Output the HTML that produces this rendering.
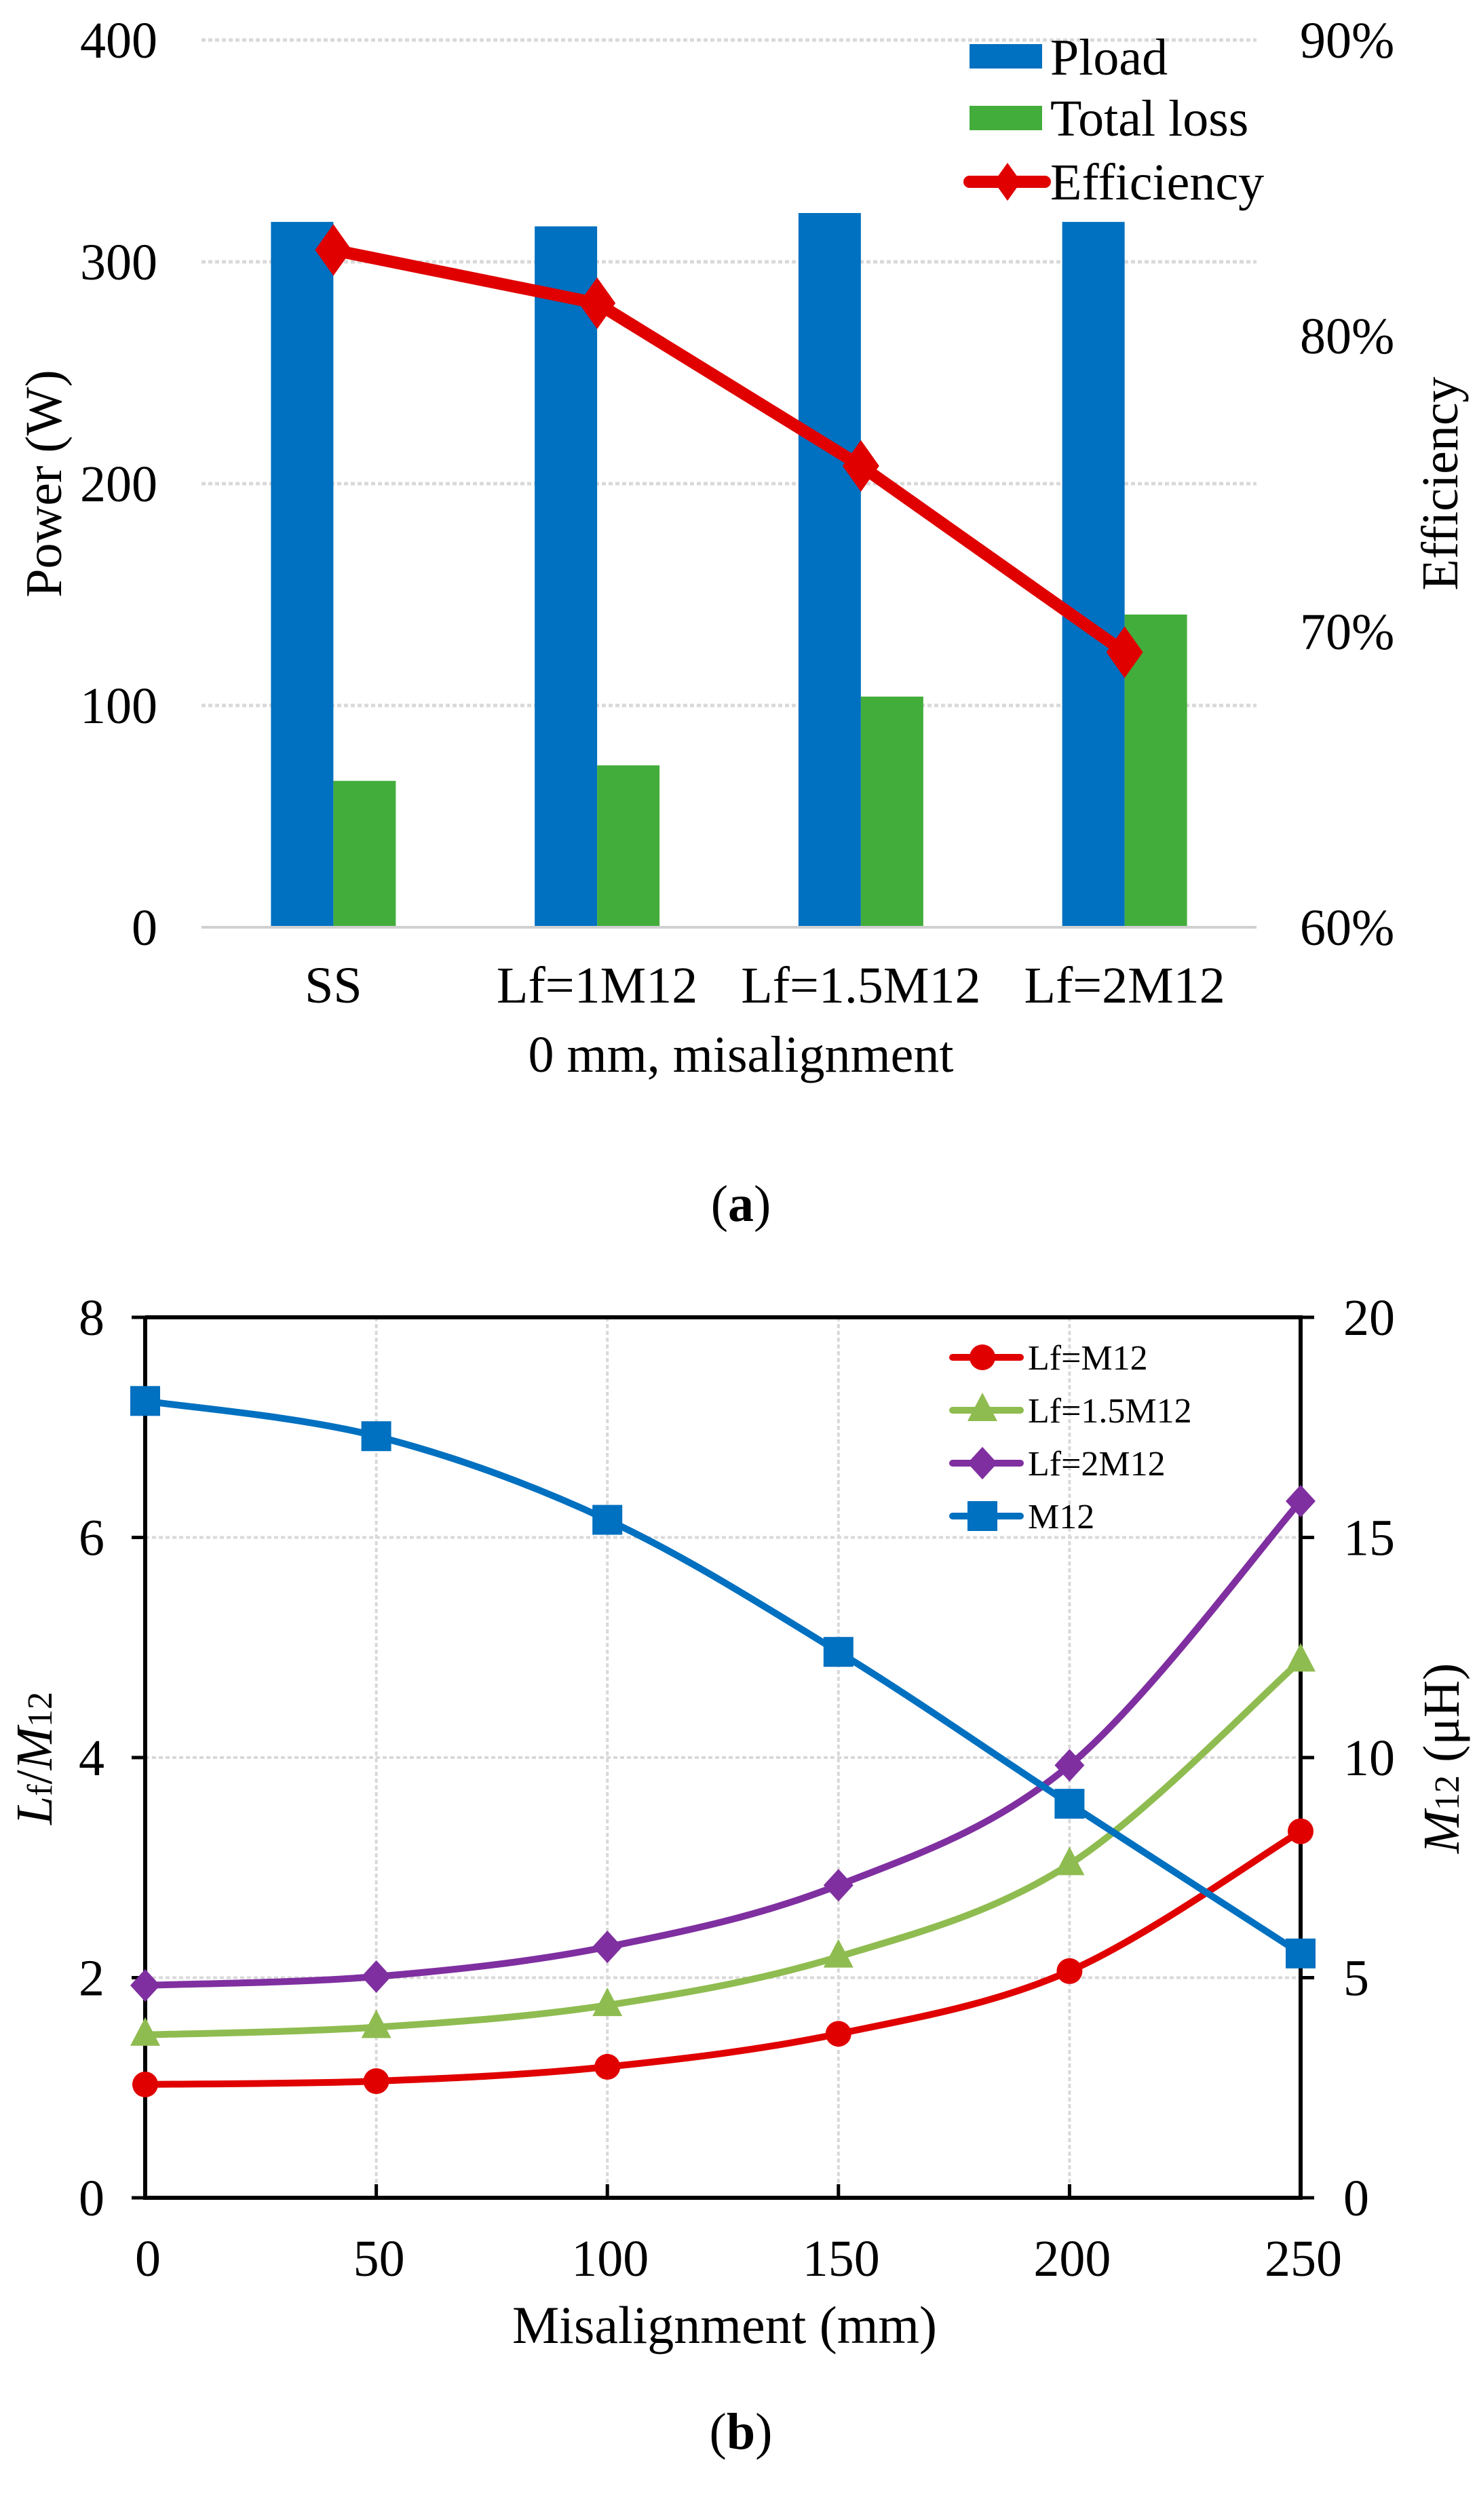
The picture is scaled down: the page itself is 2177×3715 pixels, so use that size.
<!DOCTYPE html>
<html><head><meta charset="utf-8"><style>
html,body{margin:0;padding:0;background:#fff}
svg{display:block}
text{font-family:"Liberation Serif",serif;fill:#000}
</style></head><body>
<svg id="s" width="2177" height="3715" viewBox="0 0 2177 3715" xmlns="http://www.w3.org/2000/svg">
<g id="ga"></g>
<g id="gb"></g>
<text x="1092" y="1800" font-size="76" text-anchor="middle">(<tspan font-weight="bold">a</tspan>)</text>
<text x="1092" y="3610" font-size="76" text-anchor="middle">(<tspan font-weight="bold">b</tspan>)</text>
</svg>
<script>
// ---- Chart A data ----
const catsA = ["SS","Lf=1M12","Lf=1.5M12","Lf=2M12"];
const ploadA = [318, 316, 322, 318];
const lossA = [66, 73, 104, 141];
const effA = [82.9, 81.1, 75.6, 69.3];
const yTicksA = [0,100,200,300,400];
const effTicksA = [60,70,80,90];
// ---- Chart B data ----
const xB = [0,50,100,150,200,250];
const lf1B = [1.03,1.06,1.19,1.49,2.06,3.33];
const lf15B = [1.48,1.55,1.75,2.19,3.03,4.88];
const lf2B = [1.93,2.01,2.28,2.84,3.93,6.33];
const m12B = [18.1,17.3,15.4,12.4,8.95,5.55];
const yTicksB = [0,2,4,6,8];
const rTicksB = [0,5,10,15,20];

const NS="http://www.w3.org/2000/svg";
function mk(parent,tag,attrs,txt){const e=document.createElementNS(NS,tag);for(const k in attrs)e.setAttribute(k,attrs[k]);if(txt!==undefined)e.textContent=txt;parent.appendChild(e);return e;}

// ===== Chart A =====
const ga=document.getElementById('ga');
const aL=297,aR=1852,aB=1367,aT=59;
const yA=v=>aB-(v/400)*(aB-aT);
const yE=p=>aB-((p-60)/30)*(aB-aT);
const cw=(aR-aL)/catsA.length;
const xA=i=>aL+cw*(i+0.5);
yTicksA.forEach(t=>{
  if(t>0){const g=mk(ga,'line',{x1:aL,x2:aR,y1:yA(t),y2:yA(t),stroke:'#d9d9d9','stroke-width':5,'stroke-dasharray':'6 4'});
  
  }
  const l=mk(ga,'text',{x:232,y:yA(t)+26,'font-size':76,'text-anchor':'end'},t);
  
  
});
effTicksA.forEach(t=>{
  const l=mk(ga,'text',{x:1916,y:yE(t)+26,'font-size':76},t+'%');
  
  
});
const bw=92;
catsA.forEach((c,i)=>{
  const b1=mk(ga,'rect',{x:xA(i)-bw,y:yA(ploadA[i]),width:bw,height:aB-yA(ploadA[i]),fill:'#0070c0'});
  
  
  const b2=mk(ga,'rect',{x:xA(i),y:yA(lossA[i]),width:bw,height:aB-yA(lossA[i]),fill:'#43ad3b'});
  
  
  const l=mk(ga,'text',{x:xA(i),y:1478,'font-size':76,'text-anchor':'middle'},c);
  
  
});
const ax=mk(ga,'line',{x1:aL,x2:aR,y1:aB,y2:aB,stroke:'#d0d0d0','stroke-width':4});


const ep=mk(ga,'polyline',{points:effA.map((v,i)=>xA(i)+','+yE(v)).join(' '),fill:'none',stroke:'#e00000','stroke-width':18,'stroke-linejoin':'round'});


effA.forEach((v,i)=>{
  const x=xA(i),y=yE(v);
  const d=mk(ga,'polygon',{points:`${x},${y-38} ${x+27},${y} ${x},${y+38} ${x-27},${y}`,fill:'#e00000'});
  
  
});
let t;
t=mk(ga,'text',{x:1092,y:1580,'font-size':76,'text-anchor':'middle'},'0 mm, misalignment');


t=mk(ga,'text',{x:0,y:0,'font-size':76,'text-anchor':'middle',transform:'translate(90,713) rotate(-90)'},'Power (W)');


t=mk(ga,'text',{x:0,y:0,'font-size':76,'text-anchor':'middle',transform:'translate(2148,713) rotate(-90)'},'Efficiency');


// legend a
const lg=mk(ga,'g',{});


let r=mk(lg,'rect',{x:1429,y:65,width:107,height:36,fill:'#0070c0'});


t=mk(lg,'text',{x:1548,y:110,'font-size':76},'Pload');


r=mk(lg,'rect',{x:1429,y:156,width:107,height:36,fill:'#43ad3b'});


t=mk(lg,'text',{x:1548,y:200,'font-size':76},'Total loss');


r=mk(lg,'line',{x1:1429,x2:1540,y1:268,y2:268,stroke:'#e00000','stroke-width':18,'stroke-linecap':'round'});


r=mk(lg,'polygon',{points:'1485,240 1505,268 1485,296 1465,268',fill:'#e00000'});


t=mk(lg,'text',{x:1548,y:294,'font-size':76},'Efficiency');



// ===== Chart B =====
const gb=document.getElementById('gb');
const bL=214,bR=1917,bT=1942,bB=3240;
const xBf=v=>bL+(v/250)*(bR-bL);
const yL=v=>bB-(v/8)*(bB-bT);
const yR=v=>bB-(v/20)*(bB-bT);
xB.forEach(v=>{
  if(v>0&&v<250){const g=mk(gb,'line',{x1:xBf(v),x2:xBf(v),y1:bT,y2:bB,stroke:'#d9d9d9','stroke-width':4,'stroke-dasharray':'6 4'});
  
  }
  const tk=mk(gb,'line',{x1:xBf(v),x2:xBf(v),y1:bB,y2:bB-20,stroke:'#000','stroke-width':5});
  
  
  const l=mk(gb,'text',{x:xBf(v)+4,y:3355,'font-size':76,'text-anchor':'middle'},v);
  
  
});
yTicksB.forEach(v=>{
  if(v>0&&v<8){const g=mk(gb,'line',{x1:bL,x2:bR,y1:yL(v),y2:yL(v),stroke:'#d9d9d9','stroke-width':4,'stroke-dasharray':'6 4'});
  
  }
  const tk=mk(gb,'line',{x1:bL-20,x2:bL,y1:yL(v),y2:yL(v),stroke:'#000','stroke-width':5});
  
  
  const l=mk(gb,'text',{x:154,y:yL(v)+26,'font-size':76,'text-anchor':'end'},v);
  
  
});
rTicksB.forEach(v=>{
  const tk=mk(gb,'line',{x1:bR,x2:bR+20,y1:yR(v),y2:yR(v),stroke:'#000','stroke-width':5});
  
  
  const l=mk(gb,'text',{x:1980,y:yR(v)+26,'font-size':76},v);
  
  
});
const fr=mk(gb,'path',{d:`M${bL},${bT} V${bB} H${bR} V${bT} H${bL}`,fill:'none',stroke:'#000','stroke-width':6});


function smooth(pts){
  let d=`M${pts[0][0]},${pts[0][1]}`;
  for(let i=0;i<pts.length-1;i++){
    const p0=pts[i-1]||pts[i],p1=pts[i],p2=pts[i+1],p3=pts[i+2]||p2;
    const c1=[p1[0]+(p2[0]-p0[0])/6,p1[1]+(p2[1]-p0[1])/6];
    const c2=[p2[0]-(p3[0]-p1[0])/6,p2[1]-(p3[1]-p1[1])/6];
    d+=` C${c1[0]},${c1[1]} ${c2[0]},${c2[1]} ${p2[0]},${p2[1]}`;
  }
  return d;
}
function marker(g,shape,x,y,col){
  if(shape==='circle')return mk(g,'circle',{cx:x,cy:y,r:19,fill:col});
  if(shape==='tri')return mk(g,'polygon',{points:`${x},${y-26} ${x+22},${y+16} ${x-22},${y+16}`,fill:col});
  if(shape==='dia')return mk(g,'polygon',{points:`${x},${y-24} ${x+22},${y} ${x},${y+24} ${x-22},${y}`,fill:col});
  return mk(g,'rect',{x:x-22,y:y-22,width:44,height:44,fill:col});
}
const series=[
  {name:'lf-m12',vals:lf1B,col:'#e00000',shape:'circle',ax:yL},
  {name:'lf-1-5m12',vals:lf15B,col:'#8fbc50',shape:'tri',ax:yL},
  {name:'lf-2m12',vals:lf2B,col:'#7f2fa0',shape:'dia',ax:yL},
  {name:'m12',vals:m12B,col:'#0070c0',shape:'sq',ax:yR}
];
series.forEach(s=>{
  const pts=s.vals.map((v,i)=>[xBf(xB[i]),s.ax(v)]);
  const p=mk(gb,'path',{d:smooth(pts),fill:'none',stroke:s.col,'stroke-width':10,'stroke-linecap':'round'});
  
  
  pts.forEach(q=>{
    const m=marker(gb,s.shape,q[0],q[1],s.col);
    
    
  });
});
// legend b
const labs=['Lf=M12','Lf=1.5M12','Lf=2M12','M12'];
const rowsY=[2001,2079,2157,2235];
series.forEach((s,i)=>{
  const y=rowsY[i];
  const l=mk(gb,'line',{x1:1404,x2:1504,y1:y,y2:y,stroke:s.col,'stroke-width':10,'stroke-linecap':'round'});
  
  
  const m=marker(gb,s.shape,1448,y,s.col);
  
  
  const tx=mk(gb,'text',{x:1515,y:y+18,'font-size':52},labs[i]);
  
  
});
t=mk(gb,'text',{x:1068,y:3454,'font-size':78,'text-anchor':'middle'},'Misalignment  (mm)');


t=mk(gb,'text',{x:0,y:0,'font-size':76,'text-anchor':'middle',transform:'translate(76,2592) rotate(-90)'});
t.innerHTML='<tspan font-style="italic">L</tspan><tspan font-size="52">f</tspan>/<tspan font-style="italic">M</tspan><tspan font-size="52">12</tspan>';


t=mk(gb,'text',{x:0,y:0,'font-size':76,'text-anchor':'middle',transform:'translate(2150,2592) rotate(-90)'});
t.innerHTML='<tspan font-style="italic">M</tspan><tspan font-size="52">12</tspan> (μH)';


</script>
</body></html>
